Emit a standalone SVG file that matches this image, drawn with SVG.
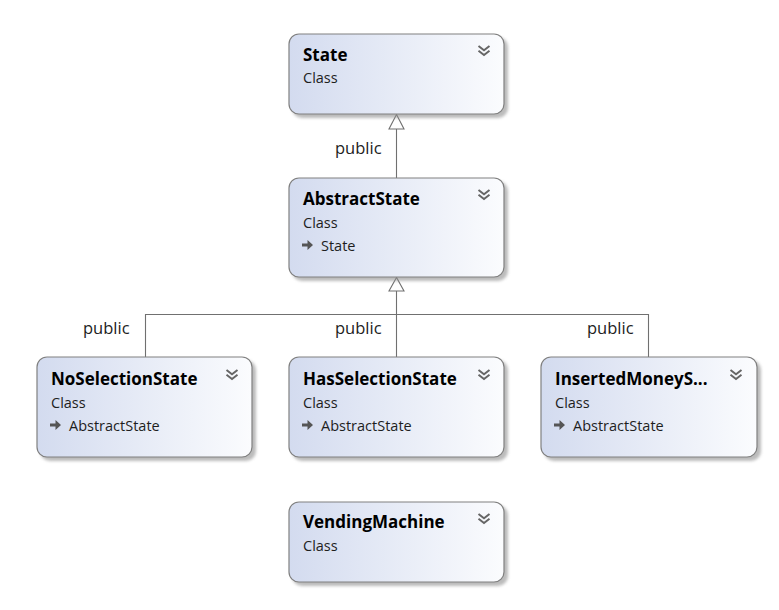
<svg xmlns="http://www.w3.org/2000/svg" width="779" height="610" viewBox="0 0 779 610">
<defs>
<linearGradient id="g" x1="0" y1="0" x2="1" y2="0">
<stop offset="0" stop-color="#d3dbef"/>
<stop offset="1" stop-color="#fbfcfe"/>
</linearGradient>
<filter id="sh" x="-10%" y="-10%" width="130%" height="130%">
<feGaussianBlur stdDeviation="1.6"/>
</filter>
<g id="chev">
<path d="M-5.5,0 L0,4.2 L5.5,0 M-5.5,4.8 L0,9 L5.5,4.8" fill="none" stroke="#666" stroke-width="2"/>
</g>
<g id="arr">
<path d="M0,-1.5 H5.5 V-5 L11,0 L5.5,5 V1.5 H0 Z" fill="#555"/>
</g>
</defs>
<style>
.shadow{fill:#8f8f8f;opacity:0.6;filter:url(#sh)}
.box{fill:url(#g);stroke:#808080;stroke-width:1.2}
.t{font-family:"Open Sans","Noto Sans",sans-serif;font-weight:bold;font-size:17px;fill:#000}
.s{font-family:"Open Sans","Noto Sans",sans-serif;font-size:14.5px;fill:#1e1e1e}
.lbl{font-family:"Open Sans","Noto Sans",sans-serif;font-size:16.5px;fill:#222}
.ln{fill:none;stroke:#707070;stroke-width:1.1}
.tri{fill:#fff;stroke:#707070;stroke-width:1.1}
</style>
<g id="connectors">
<line class="ln" x1="396.5" y1="129" x2="396.5" y2="178"/>
<path class="tri" d="M396.5,114.5 L389,129 L404,129 Z"/>
<text class="lbl" x="335" y="154">public</text>
<path class="ln" d="M396.5,291 V357 M145.5,357 V314.5 H648.5 V357"/>
<path class="tri" d="M396.5,277.5 L389,291 L404,291 Z"/>
<text class="lbl" x="83" y="334">public</text>
<text class="lbl" x="335" y="334">public</text>
<text class="lbl" x="587" y="334">public</text>
</g>
<g id="State">
<rect class="shadow" x="292" y="37" width="216" height="81" rx="10"/>
<rect class="box" x="289" y="34" width="215" height="80" rx="10"/>
<text class="t" x="303" y="61">State</text>
<text class="s" x="303" y="83">Class</text>
<use href="#chev" x="484" y="46"/>
</g>
<g id="AbstractState">
<rect class="shadow" x="292" y="181" width="216" height="100" rx="10"/>
<rect class="box" x="289" y="178" width="215" height="99" rx="10"/>
<text class="t" x="303" y="205">AbstractState</text>
<text class="s" x="303" y="228">Class</text>
<use href="#arr" x="302" y="245"/>
<text class="s" x="321" y="251">State</text>
<use href="#chev" x="484" y="190"/>
</g>
<g id="NoSelectionState">
<rect class="shadow" x="40" y="360" width="216" height="101" rx="10"/>
<rect class="box" x="37" y="357" width="215" height="100" rx="10"/>
<text class="t" x="51" y="385">NoSelectionState</text>
<text class="s" x="51" y="408">Class</text>
<use href="#arr" x="50" y="425"/>
<text class="s" x="69" y="431">AbstractState</text>
<use href="#chev" x="232" y="370"/>
</g>
<g id="HasSelectionState">
<rect class="shadow" x="292" y="360" width="216" height="101" rx="10"/>
<rect class="box" x="289" y="357" width="215" height="100" rx="10"/>
<text class="t" x="303" y="385">HasSelectionState</text>
<text class="s" x="303" y="408">Class</text>
<use href="#arr" x="302" y="425"/>
<text class="s" x="321" y="431">AbstractState</text>
<use href="#chev" x="484" y="370"/>
</g>
<g id="InsertedMoneyState">
<rect class="shadow" x="544" y="360" width="217" height="101" rx="10"/>
<rect class="box" x="541" y="357" width="216" height="100" rx="10"/>
<text class="t" x="555" y="385">InsertedMoneyS...</text>
<text class="s" x="555" y="408">Class</text>
<use href="#arr" x="554" y="425"/>
<text class="s" x="573" y="431">AbstractState</text>
<use href="#chev" x="736" y="370"/>
</g>
<g id="VendingMachine">
<rect class="shadow" x="292" y="505" width="216" height="81" rx="10"/>
<rect class="box" x="289" y="502" width="215" height="80" rx="10"/>
<text class="t" x="303" y="528">VendingMachine</text>
<text class="s" x="303" y="551">Class</text>
<use href="#chev" x="484" y="514"/>
</g>
</svg>
